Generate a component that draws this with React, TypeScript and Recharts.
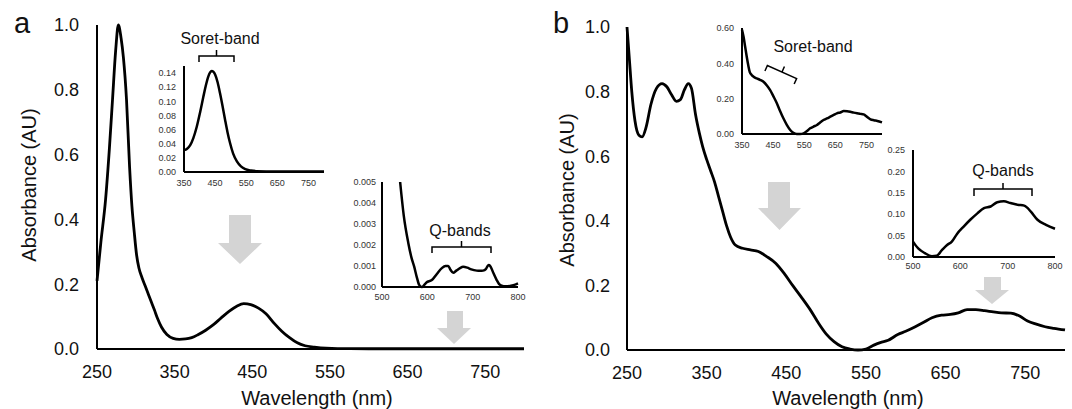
import { LineChart, Line, XAxis, YAxis } from "recharts"

// panel a, full spectrum
const mainAWl = [
  250, 255, 261, 266, 270, 274, 277.5, 281, 284, 288,
  292, 295, 298, 301, 304, 308, 312, 316, 320, 324,
  328, 333, 340, 348, 356, 364, 372, 380, 390, 400,
  410, 420, 430, 439, 448, 458, 468, 478, 488, 498,
  508, 518, 530, 545, 560, 600, 700, 800,
]
const mainAAbs = [
  0.21, 0.33, 0.46, 0.62, 0.77, 0.92, 1.0, 0.96, 0.9, 0.77,
  0.56, 0.44, 0.36, 0.29, 0.25, 0.22, 0.195, 0.17, 0.145, 0.12,
  0.094, 0.068, 0.045, 0.033, 0.03, 0.031, 0.035, 0.044, 0.058, 0.075,
  0.096, 0.116, 0.132, 0.14, 0.137, 0.126, 0.108, 0.08, 0.055, 0.035,
  0.019, 0.01, 0.006, 0.0025, 0.0012, 0.0008, 0.0008, 0.0008,
]

// panel a, Soret inset
const soretAWl = [
  350, 360, 370, 380, 391, 402, 412, 420, 428, 434,
  439, 444, 450, 458, 466, 474, 482, 490, 498, 508,
  520, 533, 547, 565, 584, 650, 750, 800,
]
const soretAAbs = [
  0.031, 0.033, 0.038, 0.048, 0.064, 0.085, 0.106, 0.122, 0.135, 0.141,
  0.143, 0.142, 0.138, 0.127, 0.111, 0.093, 0.074, 0.056, 0.041, 0.026,
  0.015, 0.008, 0.004, 0.002, 0.0012, 0.0008, 0.0007, 0.0006,
]

// panel a, Q-band inset
const qAWl = [
  540, 548, 558, 565, 571, 577, 582, 588, 598, 610,
  621, 632, 640, 646, 651, 657, 664, 672, 679, 688,
  697, 709, 716, 723, 729, 733, 736, 740, 746, 753,
  758, 764, 772, 782, 792, 800,
]
const qAAbs = [
  0.005, 0.0034, 0.0021, 0.0014, 0.00097, 0.00045, 0.0001, 0.0, 0.00022, 0.00033,
  0.00062, 0.0009, 0.001, 0.001, 0.00082, 0.00068, 0.00078, 0.0009, 0.00096, 0.00092,
  0.00084, 0.00078, 0.00077, 0.00078, 0.00085, 0.001, 0.00105, 0.00095, 0.00065, 0.00033,
  0.00015, 0.00006, 0.00003, 0.00005, 0.0001, 0.00017,
]

// panel b, full spectrum
const mainBWl = [
  250, 253, 256, 260, 265, 269, 274, 280, 287, 294,
  300, 306, 312, 317, 322, 327, 331, 336, 341, 345,
  350, 355, 360, 365, 370, 375, 380, 386, 395, 405,
  415, 425, 437, 448, 458, 470, 480, 490, 500, 510,
  520, 530, 540, 550, 560, 568, 578, 590, 600, 612,
  622, 633, 645, 656, 666, 677, 688, 699, 710, 720,
  732, 743, 753, 764, 775, 786, 800,
]
const mainBAbs = [
  1.0, 0.9, 0.8, 0.71, 0.665, 0.66, 0.69, 0.76, 0.81, 0.825,
  0.815, 0.79, 0.77, 0.775, 0.805, 0.825, 0.81, 0.73, 0.67, 0.63,
  0.59, 0.555, 0.52, 0.475, 0.43, 0.385, 0.35, 0.325, 0.315, 0.31,
  0.305, 0.29, 0.268, 0.235, 0.2, 0.16, 0.125, 0.085, 0.05, 0.026,
  0.01, 0.003, 0.0, 0.003, 0.015, 0.023, 0.03, 0.048, 0.058, 0.072,
  0.085, 0.1, 0.108, 0.11, 0.115, 0.125, 0.125, 0.122, 0.118, 0.115,
  0.114, 0.105, 0.09, 0.08, 0.072, 0.067, 0.062,
]

// panel b, Soret inset
const soretBWl = [
  350, 355, 360, 365, 370, 375, 381, 389, 397, 408,
  419, 430, 440, 451, 462, 472, 483, 494, 505, 515,
  526, 537, 548, 558, 569, 580, 591, 601, 612, 623,
  634, 645, 655, 666, 677, 688, 698, 709, 720, 730,
  741, 752, 763, 774, 785, 800,
]
const soretBAbs = [
  0.59, 0.55, 0.495, 0.44, 0.39, 0.35, 0.334, 0.322, 0.315, 0.307,
  0.296, 0.275, 0.25, 0.213, 0.174, 0.132, 0.089, 0.052, 0.023, 0.007,
  0.0, 0.0, 0.004, 0.015, 0.032, 0.042, 0.051, 0.065, 0.079, 0.088,
  0.098, 0.108, 0.117, 0.122, 0.13, 0.129, 0.126, 0.121, 0.117, 0.114,
  0.111, 0.097, 0.083, 0.078, 0.074, 0.066,
]

// panel b, Q-band inset
const qBWl = [
  500, 511, 525, 540, 550, 561, 572, 582, 593, 607,
  621, 636, 650, 664, 678, 692, 706, 721, 735, 749,
  763, 781, 800,
]
const qBAbs = [
  0.036, 0.02, 0.009, 0.002, 0.003, 0.016, 0.028, 0.036, 0.054, 0.071,
  0.087, 0.102, 0.114, 0.118, 0.128, 0.13, 0.126, 0.122, 0.12, 0.106,
  0.087, 0.075, 0.066,
]

const mainXTicks = [250, 350, 450, 550, 650, 750]
const mainYTicks = [0, 0.2, 0.4, 0.6, 0.8, 1.0]
const soretXTicks = [350, 450, 550, 650, 750]
const soretAYTicks = [0, 0.02, 0.04, 0.06, 0.08, 0.1, 0.12, 0.14]
const soretBYTicks = [0, 0.2, 0.4, 0.6]
const qXTicks = [500, 600, 700, 800]
const qAYTicks = [0, 0.001, 0.002, 0.003, 0.004, 0.005]
const qBYTicks = [0, 0.05, 0.1, 0.15, 0.2, 0.25]

const zip = (wl: number[], abs: number[]) => wl.map((x, i) => ({ x, y: abs[i] }))

type Box = { left: number; right: number; top: number; bottom: number }

interface PlotProps {
  box: Box
  data: { x: number; y: number }[]
  xDomain: [number, number]
  xTicks: number[]
  yDomain: [number, number]
  yTicks: number[]
  digits: number
  font: number
  yGap: number
  xGap: number
  lineW: number
  axisW: number
  color: string
}

function Plot(p: PlotProps) {
  const yw = 70
  const xh = 34
  const mt = 16
  const mr = 8
  const w = p.box.right - p.box.left
  const h = p.box.bottom - p.box.top
  const tick = { fill: p.color, fontSize: p.font }
  const axisLine = { stroke: "#000", strokeWidth: p.axisW }
  return (
    <div style={{ position: "absolute", left: p.box.left - yw, top: p.box.top - mt }}>
      <LineChart
        width={yw + w + mr}
        height={mt + h + xh}
        data={p.data}
        margin={{ top: mt, right: mr, left: 0, bottom: 0 }}
      >
        <XAxis
          type="number"
          dataKey="x"
          domain={p.xDomain}
          ticks={p.xTicks}
          interval={0}
          height={xh}
          tickLine={false}
          tickSize={0}
          tickMargin={p.xGap}
          axisLine={axisLine}
          tick={tick}
        />
        <YAxis
          type="number"
          domain={p.yDomain}
          ticks={p.yTicks}
          interval={0}
          width={yw}
          tickLine={false}
          tickSize={0}
          tickMargin={p.yGap}
          axisLine={axisLine}
          tick={tick}
          tickFormatter={(v: number) => v.toFixed(p.digits)}
        />
        <Line
          type="monotone"
          dataKey="y"
          stroke="#000"
          strokeWidth={p.lineW}
          dot={false}
          isAnimationActive={false}
        />
      </LineChart>
    </div>
  )
}

function Arrow({ sl, sr, top, head, hl, hr, tip }: { sl: number; sr: number; top: number; head: number; hl: number; hr: number; tip: number }) {
  const cx = (hl + hr) / 2
  const pts = `${sl},${top} ${sr},${top} ${sr},${head} ${hr},${head} ${cx},${tip} ${hl},${head} ${sl},${head}`
  return <polygon points={pts} fill="#d4d4d4" />
}

function Bracket({ x1, x2, y, drop, stem }: { x1: number; x2: number; y: number; drop: number; stem: number }) {
  const cx = (x1 + x2) / 2
  return (
    <path
      d={`M${x1},${y + drop} L${x1},${y} L${x2},${y} L${x2},${y + drop} M${cx},${y} L${cx},${y - stem}`}
      fill="none"
      stroke="#000"
      strokeWidth={1.5}
    />
  )
}

export default function App() {
  const big = { font: 18, lineW: 2.8, axisW: 2, color: "#111", digits: 1 }
  const small = { font: 9, lineW: 2.5, axisW: 2, color: "#333" }
  return (
    <div
      style={{
        position: "absolute",
        left: 0,
        top: 0,
        width: 1072,
        height: 409,
        background: "#fff",
        fontFamily: "'Liberation Sans', Arial, sans-serif",
        overflow: "hidden",
      }}
    >
      <svg width={1072} height={409} style={{ position: "absolute", left: 0, top: 0 }}>
        <Arrow sl={229} sr={251} top={215} head={243} hl={218} hr={262} tip={264} />
        <Arrow sl={447} sr={463} top={311} head={328} hl={437} hr={471} tip={344} />
        <Arrow sl={768} sr={790} top={182} head={208} hl={758} hr={801} tip={230} />
        <Arrow sl={984} sr={1001} top={277} head={290} hl={975} hr={1009} tip={304} />
      </svg>

      <Plot {...big} box={{ left: 97, right: 524, top: 25, bottom: 349 }} data={zip(mainAWl, mainAAbs)}
        xDomain={[250, 800]} xTicks={mainXTicks} yDomain={[0, 1]} yTicks={mainYTicks} yGap={18} xGap={16} />
      <Plot {...big} box={{ left: 627, right: 1065, top: 27, bottom: 350 }} data={zip(mainBWl, mainBAbs)}
        xDomain={[250, 800]} xTicks={mainXTicks} yDomain={[0, 1]} yTicks={mainYTicks} yGap={17} xGap={16} />

      <Plot {...small} digits={2} box={{ left: 184, right: 324, top: 66, bottom: 172 }} data={zip(soretAWl, soretAAbs)}
        xDomain={[350, 800]} xTicks={soretXTicks} yDomain={[0, 0.15]} yTicks={soretAYTicks} yGap={8} xGap={8} />
      <Plot {...small} digits={3} box={{ left: 382, right: 518, top: 182, bottom: 287 }} data={zip(qAWl, qAAbs)}
        xDomain={[500, 800]} xTicks={qXTicks} yDomain={[0, 0.005]} yTicks={qAYTicks} yGap={6} xGap={7} />
      <Plot {...small} digits={2} box={{ left: 742, right: 882, top: 28, bottom: 134 }} data={zip(soretBWl, soretBAbs)}
        xDomain={[350, 800]} xTicks={soretXTicks} yDomain={[0, 0.6]} yTicks={soretBYTicks} yGap={8} xGap={8} />
      <Plot {...small} digits={2} box={{ left: 913, right: 1055, top: 150, bottom: 257 }} data={zip(qBWl, qBAbs)}
        xDomain={[500, 800]} xTicks={qXTicks} yDomain={[0, 0.25]} yTicks={qBYTicks} yGap={8} xGap={6} />

      <svg width={1072} height={409} style={{ position: "absolute", left: 0, top: 0, pointerEvents: "none" }}>
        <g fill="#111" fontFamily="'Liberation Sans', Arial, sans-serif">
          <text x={14} y={33} fontSize={29}>a</text>
          <text x={553} y={33} fontSize={29}>b</text>
          <text x={317} y={405} fontSize={20} textAnchor="middle">Wavelength (nm)</text>
          <text x={848} y={405} fontSize={20} textAnchor="middle">Wavelength (nm)</text>
          <text transform="translate(36,185) rotate(-90)" fontSize={20} textAnchor="middle">Absorbance (AU)</text>
          <text transform="translate(574,190) rotate(-90)" fontSize={20} textAnchor="middle">Absorbance (AU)</text>
          <text x={220} y={44} fontSize={16} textAnchor="middle">Soret-band</text>
          <text x={460} y={236} fontSize={16} textAnchor="middle">Q-bands</text>
          <text x={813} y={52} fontSize={16} textAnchor="middle">Soret-band</text>
          <text x={1003} y={176} fontSize={16} textAnchor="middle">Q-bands</text>
        </g>
        <Bracket x1={199} x2={234} y={56} drop={6} stem={6} />
        <Bracket x1={432} x2={491} y={247} drop={6} stem={6} />
        <Bracket x1={974} x2={1032} y={189} drop={7} stem={6} />
        <g transform="translate(782,72) rotate(24)">
          <Bracket x1={-16} x2={16} y={0} drop={6} stem={6} />
        </g>
      </svg>
    </div>
  )
}
